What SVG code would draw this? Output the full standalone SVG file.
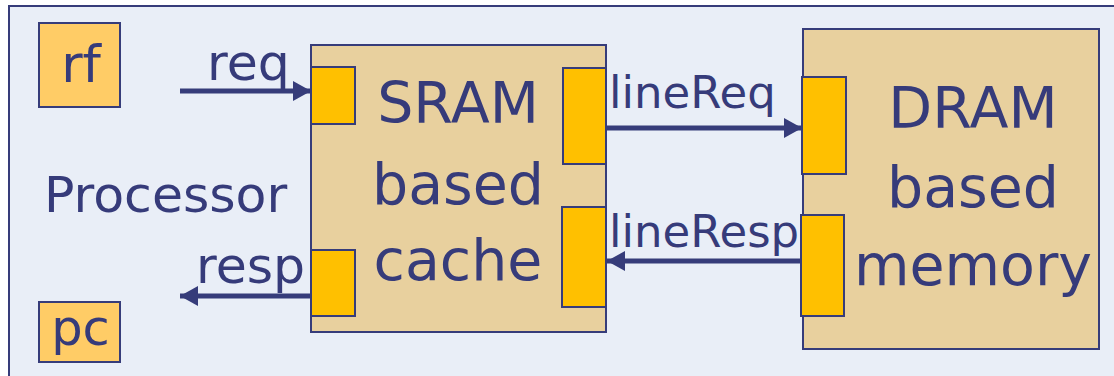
<svg xmlns="http://www.w3.org/2000/svg" width="1114" height="376" viewBox="0 0 1114 376">
  <defs>
    <style>
      .frame { fill: #E9EEF7; stroke: #363C7A; stroke-width: 2; }
      .block { fill: #E8D09E; stroke: #363C7A; stroke-width: 2; }
      .port { fill: #FFC000; stroke: #363C7A; stroke-width: 2; }
      .reg { fill: #FFCC66; stroke: #363C7A; stroke-width: 2; }
      .wire { stroke: #363C7A; stroke-width: 5; fill: none; marker-end: url(#head); }
      text { font-family: "DejaVu Sans", Verdana, sans-serif; fill: #363B7A; }
      .big { font-size: 57px; text-anchor: middle; }
      .lbl { font-size: 50.5px; }
      .lbl2 { font-size: 45px; }
    </style>
    <marker id="head" markerUnits="userSpaceOnUse" markerWidth="20" markerHeight="22" refX="18" refY="10" orient="auto">
      <path d="M0,0 L18,10 L0,20 Z" fill="#363C7A"/>
    </marker>
  </defs>

  <!-- processor frame -->
  <rect class="frame" x="9" y="6" width="1120" height="380"/>

  <g id="rf">
    <rect class="reg" x="39" y="23" width="81" height="84"/>
    <text x="81" y="82" style="font-size:52px;text-anchor:middle">rf</text>
  </g>

  <g id="pc">
    <rect class="reg" x="39" y="302" width="81" height="60"/>
    <text x="80.5" y="345" style="font-size:49.5px;text-anchor:middle">pc</text>
  </g>

  <g id="processor">
    <text x="44" y="212" style="font-size:50.5px">Processor</text>
  </g>

  <g id="cache">
    <rect class="block" x="311" y="45" width="295" height="287"/>
    <rect class="port" x="311" y="67" width="44" height="57"/>
    <rect class="port" x="311" y="250" width="44" height="66"/>
    <rect class="port" x="563" y="68" width="43" height="96"/>
    <rect class="port" x="562" y="207" width="44" height="100"/>
    <text class="big" x="458" y="123">SRAM</text>
    <text class="big" x="458" y="204">based</text>
    <text class="big" x="458" y="280">cache</text>
  </g>

  <g id="memory">
    <rect class="block" x="803" y="29" width="296" height="320"/>
    <rect class="port" x="802" y="77" width="44" height="97"/>
    <rect class="port" x="801" y="215" width="43" height="101"/>
    <text class="big" x="973" y="128">DRAM</text>
    <text class="big" x="973" y="207">based</text>
    <text class="big" x="973" y="285">memory</text>
  </g>

  <g id="connectors">
    <line class="wire" x1="180" y1="91" x2="311" y2="91"/>
    <line class="wire" x1="311" y1="296" x2="180" y2="296"/>
    <line class="wire" x1="606" y1="128" x2="802" y2="128"/>
    <line class="wire" x1="801" y1="261" x2="607" y2="261"/>
    <text class="lbl" x="207" y="80">req</text>
    <text class="lbl" x="196" y="283">resp</text>
    <text class="lbl2" x="609" y="108">lineReq</text>
    <text class="lbl2" x="609" y="247">lineResp</text>
  </g>
</svg>
